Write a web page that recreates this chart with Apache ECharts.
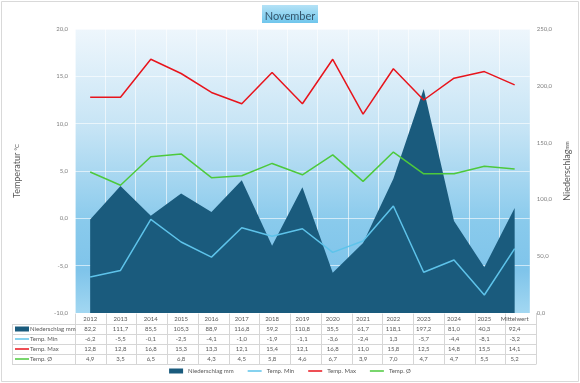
<!DOCTYPE html>
<html><head><meta charset="utf-8">
<script src="https://cdn.jsdelivr.net/npm/echarts@6/dist/echarts.min.js"></script>
<style>html,body{margin:0;padding:0;background:#fff}#c{width:580px;height:383px}</style>
</head><body><div id="c"></div>
<script>
const categories = ['2012','2013','2014','2015','2016','2017','2018','2019','2020','2021','2022','2023','2024','2025','Mittelwert'];
const niederschlag = [82.2,111.7,85.5,105.3,88.9,116.8,59.2,110.8,35.5,61.7,118.1,197.2,81.0,40.3,92.4];
const tempMin = [-6.2,-5.5,-0.1,-2.5,-4.1,-1.0,-1.9,-1.1,-3.6,-2.4,1.3,-5.7,-4.4,-8.1,-3.2];
const tempMax = [12.8,12.8,16.8,15.3,13.3,12.1,15.4,12.1,16.8,11.0,15.8,12.5,14.8,15.5,14.1];
const tempAvg = [4.9,3.5,6.5,6.8,4.3,4.5,5.8,4.6,6.7,3.9,7.0,4.7,4.7,5.5,5.2];
const seriesNames = ['Niederschlag mm','Temp. Min','Temp. Max','Temp. Ø'];
const colors = ['#1a5b7d','#5ec3ea','#e8141c','#4dc93c'];

const G = {left:75, right:44, top:29, bottom:70};
const W = 580, H = 383;
const plotL = G.left, plotR = W - G.right, plotB = H - G.bottom;
const colW = (plotR - plotL) / categories.length;
const fmt = v => v.toFixed(1).replace('.', ',');
const FONT = 'Lato, "Noto Sans", sans-serif';
const lineIcon = 'path://M0,0H28V3H0Z';

const graphics = [];
graphics.push({type:'rect', shape:{x:1.5,y:1.5,width:577,height:380}, style:{fill:null, stroke:'#d9d9d9', lineWidth:1}, silent:true});
graphics.push({type:'rect', shape:{x:262,y:5,width:56,height:18}, style:{fill:{type:'linear',x:0,y:0,x2:0,y2:1,colorStops:[{offset:0,color:'#b4e2f6'},{offset:1,color:'#6fc6ec'}]}}, z:10});
const rowYs = [324, 334, 344, 354, 364];
rowYs.forEach(y => graphics.push({type:'line', shape:{x1:12, y1:y+0.5, x2:plotR, y2:y+0.5}, style:{stroke:'#d6d6d6', lineWidth:1}, silent:true}));
graphics.push({type:'line', shape:{x1:12.5, y1:324, x2:12.5, y2:364.5}, style:{stroke:'#d6d6d6', lineWidth:1}, silent:true});
for (let i = 0; i <= categories.length; i++) {
  const x = Math.round(plotL + i*colW) + 0.5;
  graphics.push({type:'line', shape:{x1:x, y1:plotB, x2:x, y2:364.5}, style:{stroke:'#d6d6d6', lineWidth:1}, silent:true});
}
seriesNames.forEach((n, i) => {
  const yc = 329 + i*10;
  if (i === 0) graphics.push({type:'rect', shape:{x:15,y:yc-2.5,width:14,height:5}, style:{fill:colors[i]}});
  else graphics.push({type:'line', shape:{x1:15,y1:yc,x2:29,y2:yc}, style:{stroke:colors[i], lineWidth:1.5}});
  graphics.push({type:'text', x:30, y:yc, style:{text:n, font:'6px '+FONT, fill:'#595959', verticalAlign:'middle', align:'left'}});
});

const chart = echarts.init(document.getElementById('c'), null, {renderer:'canvas'});
chart.setOption({
  backgroundColor:'#fff',
  animation:false,
  title:{text:'November', left:'center', top:6, textStyle:{fontFamily:FONT, fontSize:11, fontWeight:'normal', color:'#34556b'}, z:20},
  grid:{left:G.left, right:G.right, top:G.top, bottom:G.bottom, show:true, borderWidth:0,
    backgroundColor:{type:'linear',x:0,y:0,x2:0,y2:1,colorStops:[{offset:0,color:'#eef6fc'},{offset:0.35,color:'#c6e4f5'},{offset:0.68,color:'#89caec'},{offset:0.85,color:'#7fc4ea'},{offset:1,color:'#a2d7f1'}]}},
  legend:{data:[{name:seriesNames[0], icon:'rect'}, {name:seriesNames[1], icon:lineIcon}, {name:seriesNames[2], icon:lineIcon}, {name:seriesNames[3], icon:lineIcon}],
    bottom:4, left:'center', itemWidth:14, itemHeight:5, itemGap:14,
    textStyle:{fontFamily:FONT, fontSize:6, color:'#595959'}},
  xAxis:{type:'category', data:categories, boundaryGap:true,
    axisLine:{show:false}, axisTick:{show:false},
    splitLine:{show:true, interval:0, lineStyle:{color:'rgba(255,255,255,0.6)', width:1}},
    axisLabel:{interval:0, margin:1, lineHeight:10, fontFamily:FONT, fontSize:6, color:'#595959',
      formatter:(v, i) => [v, fmt(niederschlag[i]), fmt(tempMin[i]), fmt(tempMax[i]), fmt(tempAvg[i])].join('\n')}},
  yAxis:[
    {type:'value', min:-10, max:20, interval:5, position:'left',
     name:'{a|Temperatur }{b|°C}', nameLocation:'middle', nameGap:53, nameRotate:90,
     nameTextStyle:{rich:{a:{fontFamily:FONT, fontSize:9, color:'#595959'}, b:{fontFamily:FONT, fontSize:6, color:'#595959'}}},
     axisLabel:{formatter:fmt, margin:7, fontFamily:FONT, fontSize:6, color:'#7f7f7f'},
     axisLine:{show:false}, axisTick:{show:false},
     splitLine:{lineStyle:{color:'rgba(255,255,255,0.6)', width:1}}},
    {type:'value', min:0, max:250, interval:50, position:'right',
     name:'{a|Niederschlag}{b|mm}', nameLocation:'middle', nameGap:22, nameRotate:90,
     nameTextStyle:{rich:{a:{fontFamily:FONT, fontSize:9, color:'#595959'}, b:{fontFamily:FONT, fontSize:5, color:'#595959'}}},
     axisLabel:{formatter:fmt, margin:7, fontFamily:FONT, fontSize:6, color:'#7f7f7f'},
     axisLine:{show:false}, axisTick:{show:false}, splitLine:{show:false}}
  ],
  series:[
    {name:seriesNames[0], type:'line', yAxisIndex:1, data:niederschlag, symbol:'none',
     lineStyle:{width:0, color:colors[0]}, itemStyle:{color:colors[0]},
     areaStyle:{color:colors[0], opacity:1, origin:'start'}, z:1},
    {name:seriesNames[1], type:'line', yAxisIndex:0, data:tempMin, symbol:'none', lineStyle:{width:1.5, color:colors[1]}, itemStyle:{color:colors[1]}, z:3},
    {name:seriesNames[2], type:'line', yAxisIndex:0, data:tempMax, symbol:'none', lineStyle:{width:1.5, color:colors[2]}, itemStyle:{color:colors[2]}, z:3},
    {name:seriesNames[3], type:'line', yAxisIndex:0, data:tempAvg, symbol:'none', lineStyle:{width:1.5, color:colors[3]}, itemStyle:{color:colors[3]}, z:3}
  ],
  graphic:{elements:graphics}
});
</script></body></html>
